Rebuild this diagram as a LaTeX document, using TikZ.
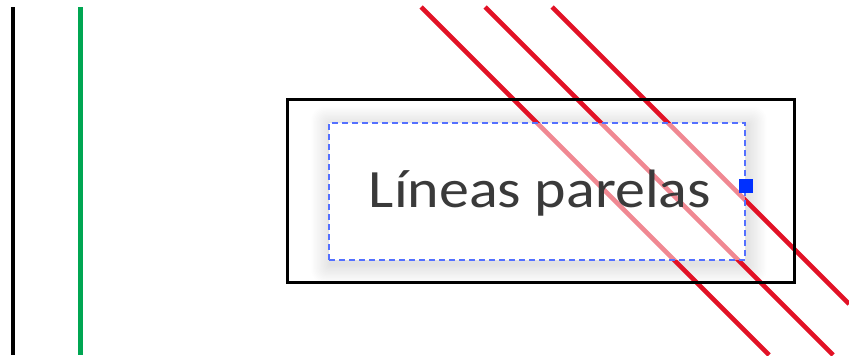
\documentclass[tikz,border=0pt]{standalone}
\usepackage{fontspec}
\newfontfamily\handfont{Carlito}
\usetikzlibrary{positioning,calc}
\definecolor{linered}{RGB}{226,18,38}
\definecolor{linegreen}{RGB}{0,166,82}
\definecolor{selblue}{RGB}{84,112,255}
\definecolor{gripblue}{RGB}{0,48,255}
\definecolor{inkgray}{RGB}{58,58,58}

\begin{document}
\begin{tikzpicture}[x=1pt,y=-1pt,
  redline/.style={linered, line width=4.6pt},
  framebox/.style={draw, line width=3.4pt, inner sep=0pt, minimum width=507pt, minimum height=183pt},
  selbox/.style={draw=selblue, line width=2.2pt, dash pattern=on 6pt off 4pt,
    inner sep=0pt, minimum width=416pt, minimum height=137pt},
  grip/.style={fill=gripblue, inner sep=0pt, minimum size=14pt}]
  \useasboundingbox (0,0) rectangle (849,356);
  % vertical lines
  \coordinate (k1) at (13,7); \coordinate (k2) at (13,355);
  \coordinate (g1) at (80,7); \coordinate (g2) at (80,355);
  \draw[line width=4.2pt] (k1) -- (k2);
  \draw[linegreen, line width=5pt] (g1) -- (g2);
  % soft shadow under the selection
  \foreach \i in {1,...,14}{
    \fill[black, opacity=0.009, rounded corners=\i pt]
      (331-\i*1.4, 126-\i*1.4) rectangle (747+\i*1.4, 264+\i*1.4);
  }
  \fill[white] (329,123) rectangle (745,260);
  % parallel red lines
  \foreach \x/\n in {421/r1, 485/r2}{
    \coordinate (\n a) at (\x,7); \coordinate (\n b) at (\x+348,355);
    \draw[redline] (\n a) -- (\n b);
  }
  \coordinate (r3a) at (552,7); \coordinate (r3b) at (849,304);
  \draw[redline] (r3a) -- (r3b);
  % frame and selected text
  \node[framebox] (frame) at (541,191) {};
  \node[selbox, fill=white, fill opacity=0.5] (sel) at (537,191.5) {};
  \node[inkgray, anchor=base, inner sep=0pt, font=\handfont\fontsize{54}{60}\selectfont]
    (caption) at (540,207) {\scalebox{1.11}[1]{Líneas parelas}};
  \node[grip] (handle) at ([yshift=6pt]sel.east) {};
\end{tikzpicture}
\end{document}
